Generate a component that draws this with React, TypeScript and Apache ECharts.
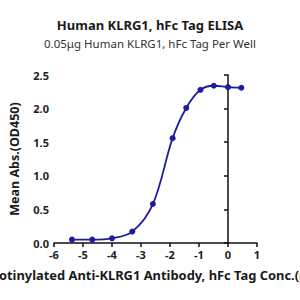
import React, { useEffect, useRef } from "react";
import * as echarts from "echarts";

const logConc = [-5.38, -4.68, -4.0, -3.3, -2.59, -1.91, -1.44, -0.95, -0.49, 0.0, 0.46];
const meanAbs = [0.05, 0.05, 0.07, 0.17, 0.58, 1.56, 2.01, 2.28, 2.34, 2.32, 2.31];
const titleText = "Human KLRG1, hFc Tag ELISA";
const subtitleText = "0.05μg Human KLRG1, hFc Tag Per Well";
const xName = "Biotinylated Anti-KLRG1 Antibody, hFc Tag Conc.(μg/mL)";
const yName = "Mean Abs.(OD450)";

export default function App() {
  const ref = useRef<HTMLDivElement>(null);
  useEffect(() => {
    if (!ref.current) return;
    const chart = echarts.init(ref.current, null, { renderer: "svg" });
    const font = "'Noto Sans', 'Open Sans', sans-serif";
    const color = "#1c1c9c";
    chart.setOption({
      animation: false,
      backgroundColor: "#ffffff",
      title: [
        {
          text: titleText,
          left: "center",
          top: 13,
          textStyle: { fontFamily: font, fontSize: 13, fontWeight: "bold", color: "#1a1a1a" },
        },
        {
          text: subtitleText,
          left: "center",
          top: 32,
          textStyle: { fontFamily: font, fontSize: 11.5, fontWeight: "normal", color: "#333" },
        },
      ],
      grid: { left: 42, right: 43, top: 75, bottom: 57, containLabel: false },
      xAxis: {
        type: "value",
        min: -6,
        max: 1,
        interval: 1,
        splitLine: { show: false },
        axisLine: { onZero: false, lineStyle: { color: "#111", width: 1.5 } },
        axisTick: { show: true, length: 4, lineStyle: { color: "#111", width: 1.5 } },
        axisLabel: { fontFamily: font, fontSize: 11, fontWeight: "bold", color: "#222", margin: 6 },
      },
      yAxis: {
        type: "value",
        min: 0,
        max: 2.5,
        interval: 0.5,
        splitLine: { show: false },
        name: yName,
        nameLocation: "middle",
        nameGap: 33,
        nameTextStyle: { fontFamily: font, fontSize: 12.5, fontWeight: "bold", color: "#1a1a1a" },
        axisLine: { show: true, lineStyle: { color: "#111", width: 1.5 } },
        axisTick: { show: true, length: 4, lineStyle: { color: "#111", width: 1.5 } },
        axisLabel: {
          fontFamily: font,
          fontSize: 11,
          fontWeight: "bold",
          color: "#222",
          margin: 5,
          formatter: (v: number) => v.toFixed(1),
        },
      },
      graphic: [
        {
          type: "text",
          x: -13.5,
          y: 268,
          style: {
            text: xName,
            fontFamily: font,
            fontSize: 12.9,
            fontWeight: "bold",
            fill: "#1a1a1a",
          },
        },
      ],
      series: [
        {
          type: "line",
          data: logConc.map((x, i) => [x, meanAbs[i]]),
          smooth: 0.35,
          symbol: "circle",
          symbolSize: 6,
          itemStyle: { color },
          lineStyle: { color, width: 1.8 },
        },
      ],
    });
    return () => chart.dispose();
  }, []);
  return <div ref={ref} style={{ width: 300, height: 300, position: "absolute", left: 0, top: 0 }} />;
}
